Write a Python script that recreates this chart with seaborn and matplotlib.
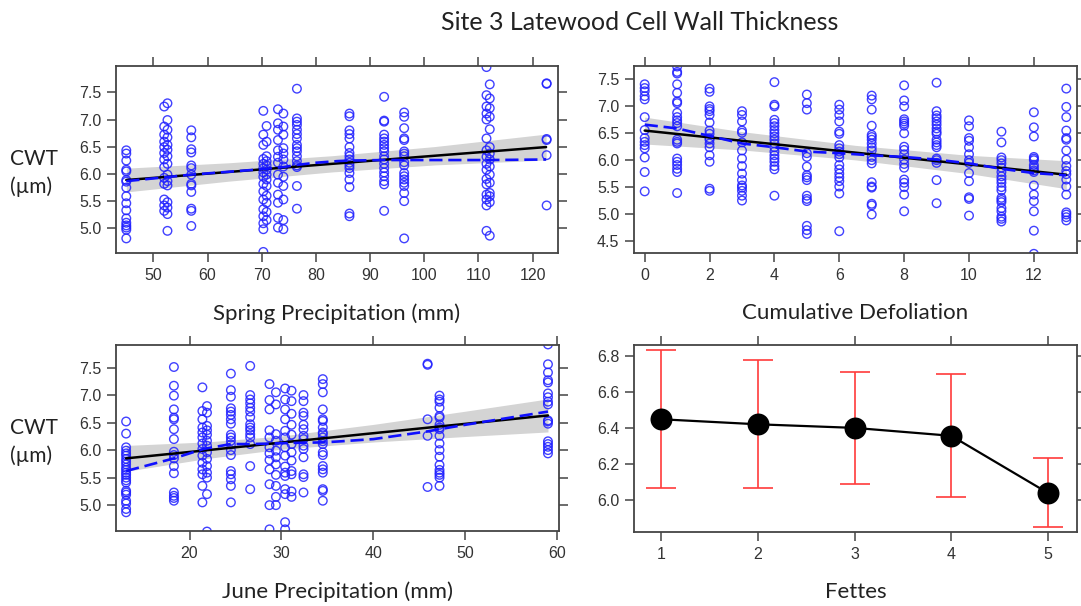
import numpy as np
import pandas as pd
import matplotlib
matplotlib.use("Agg")
import matplotlib.pyplot as plt
import seaborn as sns

# ---------------- data ----------------
title = "Site 3 Latewood Cell Wall Thickness"

spring_x = [45, 52.0, 52.6, 57, 70.3, 70.9, 73.0, 74.0, 76.5, 86.2, 92.6, 96.3, 111.5, 112.1, 122.6]
spring_cwt = [
    [6.43, 6.37, 6.24, 6.07, 6.04, 5.88, 5.85, 5.74, 5.58, 5.45, 5.32, 5.17, 5.09, 5.04, 5.00, 4.96, 4.80],
    [7.24, 6.87, 6.72, 6.59, 6.49, 6.38, 6.26, 6.12, 5.92, 5.81, 5.52, 5.41, 5.31],
    [7.30, 6.99, 6.81, 6.67, 6.53, 6.44, 6.32, 6.18, 5.98, 5.86, 5.78, 5.47, 5.37, 5.25, 4.94],
    [6.80, 6.67, 6.45, 6.39, 6.15, 6.10, 5.98, 5.81, 5.78, 5.66, 5.35, 5.31, 5.03],
    [7.16, 6.72, 6.53, 6.27, 6.18, 6.10, 6.02, 5.94, 5.81, 5.67, 5.52, 5.34, 5.21, 5.08, 4.97, 4.55],
    [6.88, 6.59, 6.32, 6.23, 6.15, 6.07, 5.98, 5.89, 5.77, 5.59, 5.46, 5.29, 5.14],
    [7.19, 6.93, 6.81, 6.62, 6.43, 6.31, 6.20, 5.98, 5.83, 5.61, 5.46, 5.18, 5.00],
    [7.11, 6.87, 6.72, 6.47, 6.37, 6.26, 6.13, 5.94, 5.77, 5.52, 5.14, 4.97],
    [7.57, 7.02, 6.96, 6.90, 6.81, 6.73, 6.65, 6.53, 6.47, 6.41, 6.32, 6.23, 6.15, 6.12, 5.77, 5.35],
    [7.11, 7.06, 6.80, 6.73, 6.65, 6.49, 6.38, 6.32, 6.26, 6.20, 6.15, 6.10, 6.01, 5.89, 5.75, 5.26, 5.21],
    [7.42, 6.98, 6.96, 6.72, 6.65, 6.59, 6.53, 6.47, 6.41, 6.32, 6.26, 6.18, 6.10, 6.02, 5.95, 5.86, 5.80, 5.31],
    [7.13, 7.05, 6.84, 6.65, 6.62, 6.41, 6.37, 6.32, 6.21, 6.15, 6.01, 5.95, 5.89, 5.83, 5.77, 5.64, 5.49, 4.80],
    [7.97, 7.45, 7.24, 7.11, 7.00, 6.65, 6.43, 6.31, 6.18, 6.07, 5.90, 5.80, 5.61, 5.52, 5.41, 4.94],
    [7.65, 7.39, 7.21, 7.05, 6.82, 6.49, 6.37, 6.26, 6.13, 5.98, 5.83, 5.64, 5.58, 5.47, 4.85],
    [7.67, 7.66, 6.64, 6.62, 6.34, 5.41],
]
spring_fit_x = [45, 64, 83, 102, 122.5]
spring_fit_y = [5.88, 6.03, 6.18, 6.33, 6.49]
spring_lo = [5.66, 5.86, 6.03, 6.16, 6.25]
spring_hi = [6.10, 6.20, 6.33, 6.50, 6.73]
spring_smooth_x = [45, 52, 57, 70, 74, 76.5, 80, 84, 86, 92.6, 96, 112, 122.5]
spring_smooth_y = [5.86, 5.93, 5.98, 6.08, 6.12, 6.16, 6.20, 6.23, 6.24, 6.25, 6.25, 6.25, 6.26]

defol_x = list(range(14))
defol_cwt = [
    [7.41, 7.34, 7.28, 7.19, 7.13, 6.80, 6.56, 6.41, 6.34, 6.28, 6.22, 6.05, 5.78, 5.42],
    [7.74, 7.64, 7.61, 7.41, 7.25, 7.09, 7.06, 6.88, 6.80, 6.74, 6.69, 6.63, 6.38, 6.34, 6.31, 6.03, 5.97, 5.91, 5.84, 5.78, 5.39],
    [7.33, 7.27, 7.00, 6.95, 6.91, 6.84, 6.70, 6.55, 6.49, 6.41, 6.38, 6.31, 6.24, 6.09, 5.97, 5.47, 5.43],
    [6.91, 6.84, 6.72, 6.55, 6.51, 6.33, 6.18, 6.03, 5.89, 5.75, 5.63, 5.53, 5.49, 5.43, 5.34, 5.25],
    [7.45, 7.03, 7.00, 6.75, 6.69, 6.63, 6.56, 6.50, 6.44, 6.38, 6.31, 6.24, 6.16, 6.09, 6.03, 5.97, 5.89, 5.83, 5.34],
    [7.22, 7.06, 6.94, 6.13, 6.06, 5.88, 5.72, 5.68, 5.63, 5.34, 5.28, 5.24, 4.78, 4.70, 4.63],
    [7.03, 6.94, 6.84, 6.72, 6.53, 6.49, 6.28, 6.22, 6.16, 6.11, 6.05, 5.91, 5.83, 5.75, 5.68, 5.61, 5.51, 5.38, 4.68],
    [7.20, 7.13, 6.94, 6.64, 6.47, 6.43, 6.38, 6.31, 6.24, 6.18, 6.06, 6.00, 5.94, 5.59, 5.51, 5.49, 5.19, 5.16, 4.99],
    [7.39, 7.11, 7.00, 6.76, 6.72, 6.68, 6.64, 6.50, 6.25, 6.19, 6.11, 6.01, 5.93, 5.86, 5.64, 5.58, 5.50, 5.36, 5.05],
    [7.44, 6.91, 6.83, 6.78, 6.72, 6.66, 6.59, 6.53, 6.49, 6.38, 6.33, 6.28, 6.24, 6.03, 6.00, 5.95, 5.63, 5.20],
    [6.74, 6.63, 6.41, 6.36, 6.24, 6.11, 6.00, 5.95, 5.76, 5.61, 5.31, 5.28, 4.97],
    [6.53, 6.33, 6.05, 6.00, 5.94, 5.86, 5.78, 5.70, 5.64, 5.58, 5.50, 5.44, 5.30, 5.26, 5.22, 5.11, 5.05, 4.95, 4.91, 4.86],
    [6.89, 6.61, 6.44, 6.06, 6.03, 6.00, 5.91, 5.86, 5.81, 5.78, 5.53, 5.36, 5.24, 5.05, 4.69, 4.26],
    [7.33, 6.99, 6.80, 6.55, 6.41, 6.38, 6.18, 6.01, 5.89, 5.80, 5.74, 5.64, 5.51, 5.36, 5.03, 4.99, 4.94, 4.88],
]
defol_fit_x = [0, 3, 6.5, 10, 13]
defol_fit_y = [6.55, 6.36, 6.14, 5.92, 5.73]
defol_lo = [6.30, 6.19, 6.005, 5.75, 5.47]
defol_hi = [6.80, 6.53, 6.275, 6.09, 5.99]
defol_smooth_x = [0, 1, 2, 3, 4, 5, 6, 7, 8, 9, 10, 11, 12, 13]
defol_smooth_y = [6.66, 6.59, 6.45, 6.31, 6.24, 6.16, 6.13, 6.09, 6.06, 6.01, 5.94, 5.84, 5.76, 5.72]

june_x = [13.1, 18.3, 21.4, 21.9, 24.5, 26.6, 28.7, 29.4, 30.4, 31.1, 32.4, 34.5, 45.9, 47.2, 59.0]
june_cwt = [
    [6.52, 6.30, 6.05, 5.99, 5.94, 5.90, 5.84, 5.79, 5.74, 5.68, 5.64, 5.59, 5.55, 5.50, 5.45, 5.41, 5.26, 5.23, 5.19, 5.08, 5.03, 4.93, 4.87],
    [7.51, 7.17, 6.99, 6.74, 6.59, 6.56, 6.38, 6.20, 5.97, 5.91, 5.85, 5.71, 5.58, 5.23, 5.17, 5.13, 5.08],
    [7.14, 6.71, 6.56, 6.41, 6.32, 6.23, 6.12, 6.02, 5.90, 5.77, 5.65, 5.56, 5.35, 5.05],
    [6.80, 6.68, 6.44, 6.36, 6.28, 6.17, 6.08, 5.96, 5.84, 5.71, 5.59, 5.50, 5.20, 4.52],
    [7.39, 7.09, 6.97, 6.76, 6.70, 6.64, 6.56, 6.48, 6.28, 6.23, 6.17, 6.10, 6.00, 5.91, 5.62, 5.56, 5.47, 5.35, 5.05],
    [7.53, 7.00, 6.92, 6.85, 6.77, 6.70, 6.60, 6.47, 6.41, 6.36, 6.29, 6.23, 6.11, 5.71, 5.29],
    [7.20, 6.91, 6.74, 6.36, 6.23, 6.05, 5.94, 5.82, 5.65, 5.38, 5.00, 4.56],
    [7.05, 6.83, 6.29, 6.17, 5.99, 5.87, 5.74, 5.55, 5.35, 5.15, 5.00],
    [7.12, 6.92, 6.74, 6.56, 6.35, 6.23, 6.05, 5.90, 5.70, 5.59, 5.53, 5.29, 5.20, 4.69, 4.56],
    [7.08, 6.89, 6.66, 6.46, 6.28, 6.11, 5.96, 5.81, 5.62, 5.56, 5.25, 5.15],
    [7.00, 6.89, 6.68, 6.62, 6.46, 6.38, 6.26, 6.20, 6.08, 6.02, 5.87, 5.56, 5.51, 5.23],
    [7.29, 7.20, 7.05, 6.74, 6.56, 6.53, 6.41, 6.32, 6.29, 6.23, 6.16, 6.11, 5.96, 5.91, 5.71, 5.65, 5.59, 5.29, 5.26, 5.08],
    [7.57, 7.55, 6.56, 6.26, 5.33],
    [6.99, 6.92, 6.88, 6.77, 6.62, 6.59, 6.46, 6.41, 6.38, 6.26, 6.12, 6.00, 5.88, 5.73, 5.64, 5.59, 5.55, 5.50, 5.35],
    [7.92, 7.56, 7.41, 7.27, 7.23, 7.03, 6.96, 6.88, 6.83, 6.54, 6.52, 6.48, 6.16, 6.11, 6.06, 6.00, 5.94],
]
june_fit_x = [13.1, 22, 30, 40, 50, 59]
june_fit_y = [5.85, 6.00, 6.137, 6.307, 6.477, 6.63]
june_lo = [5.615, 5.85, 6.017, 6.147, 6.247, 6.33]
june_hi = [6.085, 6.15, 6.257, 6.467, 6.707, 6.93]
june_smooth_x = [13.1, 18.3, 21.5, 24.5, 26.6, 29, 31, 34.5, 36.5, 40, 45.9, 47.2, 50, 59]
june_smooth_y = [5.62, 5.85, 6.02, 6.11, 6.11, 6.12, 6.13, 6.14, 6.16, 6.20, 6.34, 6.38, 6.46, 6.70]

fettes_x = [1, 2, 3, 4, 5]
fettes_mean = [6.447, 6.419, 6.399, 6.355, 6.037]
fettes_lo = [6.064, 6.064, 6.088, 6.013, 5.847]
fettes_hi = [6.833, 6.778, 6.708, 6.699, 6.230]

# ---------------- style ----------------
sns.set_theme(style="white")
plt.rcParams['font.family'] = ['Liberation Sans', 'DejaVu Sans']
LABEL_FONT = ['Lato', 'DejaVu Sans']
FRAME = '#444444'
TICKC = '#333333'

W, H = 1081, 606
fig = plt.figure(figsize=(W / 100, H / 100), dpi=100)


def panel(l, t, r, b):
    return fig.add_axes([l / W, 1 - b / H, (r - l) / W, (b - t) / H])


def style(ax, xticks, yticks, xlim, ylim, xlabel, yfmt="{:.1f}", xfmt="{:g}"):
    ax.set_xlim(*xlim)
    ax.set_ylim(*ylim)
    ax.set_xticks(xticks)
    ax.set_xticklabels([xfmt.format(v) for v in xticks])
    ax.set_yticks(yticks)
    ax.set_yticklabels([yfmt.format(v) for v in yticks])
    for s in ax.spines.values():
        s.set_visible(True)
        s.set_color(FRAME)
        s.set_linewidth(1.3)
    ax.tick_params(axis='both', which='both', direction='out', length=6.5, width=1.1,
                   color=FRAME, labelcolor=TICKC, labelsize=11.5, pad=4,
                   top=True, right=True, bottom=True, left=True,
                   labeltop=False, labelright=False)
    ax.set_xlabel(xlabel, fontsize=16, family=LABEL_FONT, color='#222222', labelpad=15)
    ax.set_ylabel("")
    ax.grid(False)


def scatter_panel(ax, xs, ys, fx, fy, lo, hi, sx, sy):
    df = pd.DataFrame({
        'x': [x for x, col in zip(xs, ys) for _ in col],
        'y': [v for col in ys for v in col],
    })
    ax.fill_between(fx, lo, hi, color='#d4d4d4', lw=0, zorder=1)
    sns.scatterplot(data=df, x='x', y='y', ax=ax, marker='o', s=38,
                    facecolors='none', edgecolor='#2020ff', linewidth=1.0,
                    alpha=0.85, zorder=2, legend=False)
    sns.lineplot(x=fx, y=fy, ax=ax, color='black', lw=1.8, sort=False,
                 estimator=None, zorder=4)
    sns.lineplot(x=sx, y=sy, ax=ax, color='#1010ff', lw=1.9, sort=False,
                 estimator=None, linestyle=(0, (5, 2.2)), zorder=5)


# Top-left: spring precipitation
ax1 = panel(116, 66, 558, 253)
scatter_panel(ax1, spring_x, spring_cwt, spring_fit_x, spring_fit_y,
              spring_lo, spring_hi, spring_smooth_x, spring_smooth_y)
style(ax1, [50, 60, 70, 80, 90, 100, 110, 120], [5.0, 5.5, 6.0, 6.5, 7.0, 7.5],
      (43.1, 124.7), (4.53, 7.99), "Spring Precipitation (mm)")

# Top-right: cumulative defoliation
ax2 = panel(634, 66, 1077, 253)
scatter_panel(ax2, defol_x, defol_cwt, defol_fit_x, defol_fit_y,
              defol_lo, defol_hi, defol_smooth_x, defol_smooth_y)
style(ax2, [0, 2, 4, 6, 8, 10, 12], [4.5, 5.0, 5.5, 6.0, 6.5, 7.0, 7.5],
      (-0.33, 13.33), (4.275, 7.75), "Cumulative Defoliation")

# Bottom-left: June precipitation
ax3 = panel(116, 345, 559, 531)
scatter_panel(ax3, june_x, june_cwt, june_fit_x, june_fit_y,
              june_lo, june_hi, june_smooth_x, june_smooth_y)
style(ax3, [20, 30, 40, 50, 60], [5.0, 5.5, 6.0, 6.5, 7.0, 7.5],
      (12.0, 60.2), (4.53, 7.91), "June Precipitation (mm)")

# Bottom-right: Fettes
ax4 = panel(634, 345, 1077, 532)
yerr = [np.subtract(fettes_mean, fettes_lo), np.subtract(fettes_hi, fettes_mean)]
ax4.errorbar(fettes_x, fettes_mean, yerr=yerr, fmt='none', ecolor='#ff3b3b',
             elinewidth=1.2, capsize=11, capthick=1.2, zorder=1)
sns.lineplot(x=fettes_x, y=fettes_mean, ax=ax4, color='black', lw=1.6,
             sort=False, estimator=None, zorder=3)
sns.scatterplot(x=fettes_x, y=fettes_mean, ax=ax4, color='black', s=250,
                edgecolor='black', linewidth=0, zorder=4, legend=False)
style(ax4, [1, 2, 3, 4, 5], [6.0, 6.2, 6.4, 6.6, 6.8],
      (0.72, 5.30), (5.82, 6.86), "Fettes")

# Y labels and title
for yc in (173, 442):
    fig.text(10 / W, 1 - yc / H, "CWT\n(\u00b5m)", ha='left', va='center',
             fontsize=15, family=LABEL_FONT, color='#222222', linespacing=1.4)
fig.text(640 / W, 1 - 22 / H, title, ha='center', va='center',
         fontsize=18, family=LABEL_FONT, color='#222222')

fig.savefig("out.png", dpi=100)
